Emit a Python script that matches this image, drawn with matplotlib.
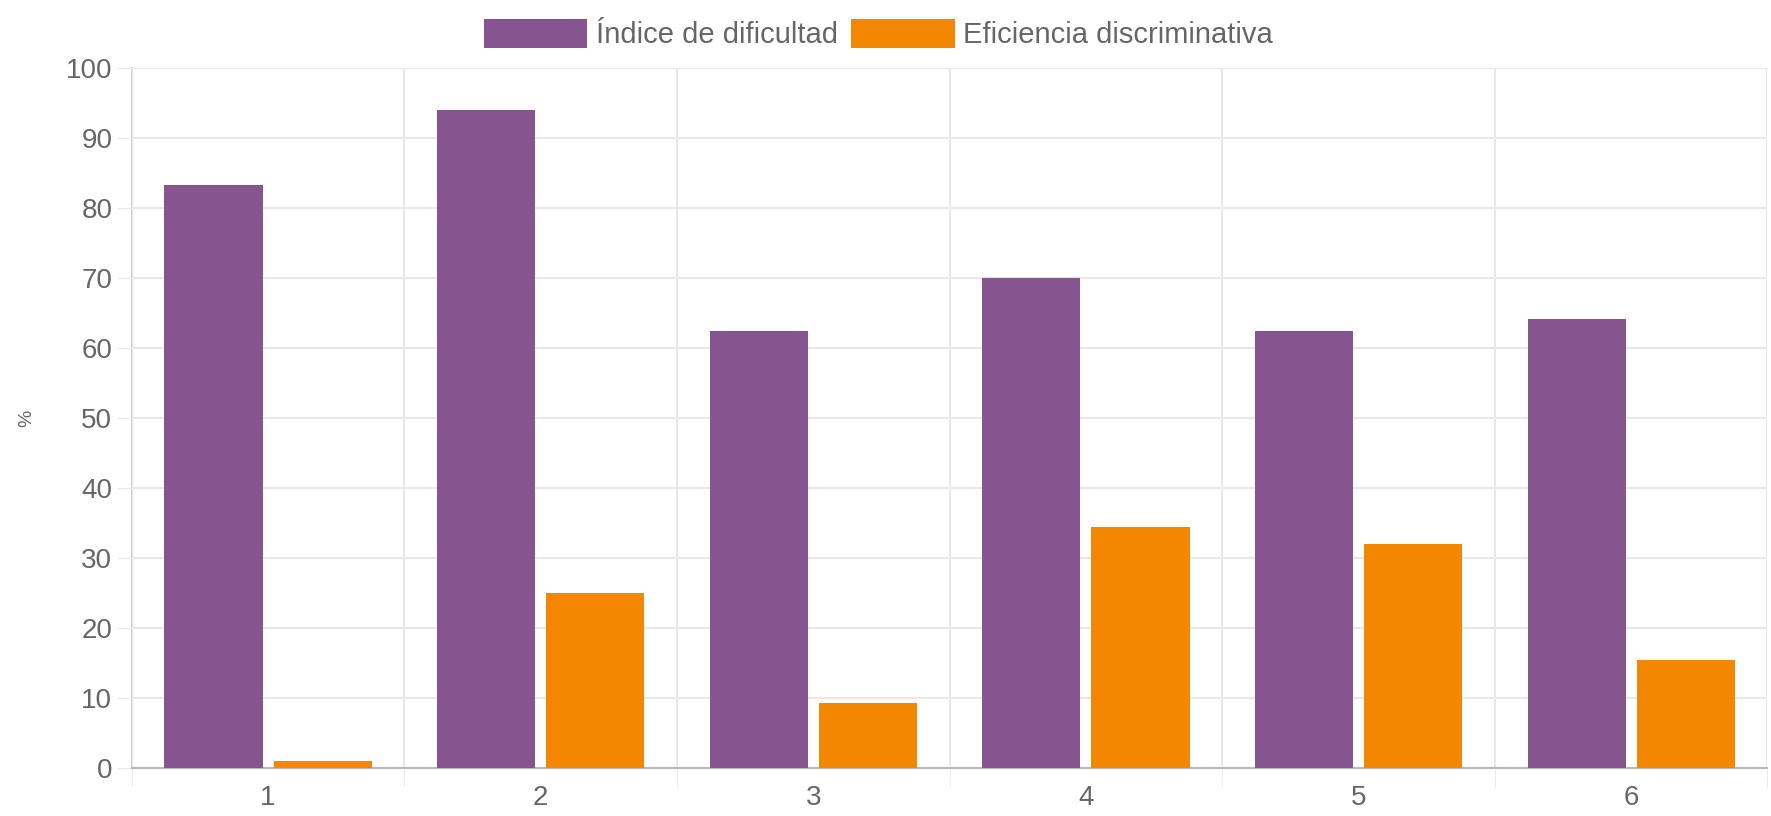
import numpy as np
import matplotlib
matplotlib.use("Agg")
import matplotlib.pyplot as plt

categories = ["1", "2", "3", "4", "5", "6"]
dificultad = [83.3, 94.1, 62.4, 70.0, 62.5, 64.2]
eficiencia = [1.0, 25.1, 9.3, 34.5, 32.0, 15.5]
series_names = ["Índice de dificultad", "Eficiencia discriminativa"]
y_ticks = list(range(0, 101, 10))

purple = "#86548f"
orange = "#f38700"
text_gray = "#666666"
grid_gray = "#e8e8e8"

plt.rcParams["font.family"] = ["Liberation Sans", "DejaVu Sans"]

fig = plt.figure(figsize=(17.71, 8.16), dpi=100)
ax = fig.add_axes([0.0744, 0.0585, 0.9236, 0.8578])

x = np.arange(len(categories))
w = 0.36
ax.bar(x - 0.2, dificultad, width=w, color=purple, label=series_names[0], zorder=3)
ax.bar(x + 0.2, eficiencia, width=w, color=orange, label=series_names[1], zorder=3)

ax.set_xlim(-0.5, len(categories) - 0.5)
ax.set_ylim(0, 100)
ax.set_yticks(y_ticks)
ax.set_xticks(x)
ax.set_xticklabels(categories)
ax.set_xticks(np.arange(len(categories) + 1) - 0.5, minor=True)

ax.tick_params(axis="y", length=10, color=grid_gray, labelsize=20,
               labelcolor=text_gray, pad=4)
ax.tick_params(axis="x", which="major", length=0, labelsize=20,
               labelcolor=text_gray, pad=12)
ax.tick_params(axis="x", which="minor", length=14, color=grid_gray)

ax.grid(axis="y", color=grid_gray, linewidth=1.5, zorder=0)
ax.grid(axis="x", which="minor", color=grid_gray, linewidth=1.5, zorder=0)

for side in ["top", "right"]:
    ax.spines[side].set_visible(False)
ax.spines["left"].set_color("#d0d0d0")
ax.spines["left"].set_linewidth(1.5)
ax.spines["bottom"].set_color("#b8b8b8")
ax.spines["bottom"].set_linewidth(1.5)
ax.spines["left"].set_zorder(1)

ax.set_ylabel("%", fontsize=14, color=text_gray, labelpad=22)

fig.legend(loc="upper center", bbox_to_anchor=(0.496, 1.0), ncol=2,
           frameon=False, fontsize=21, handlelength=3.55, handleheight=1.17,
           handletextpad=0.3, columnspacing=0.45, labelcolor=text_gray,
           borderaxespad=0.25)

fig.savefig("out.png", dpi=100)
